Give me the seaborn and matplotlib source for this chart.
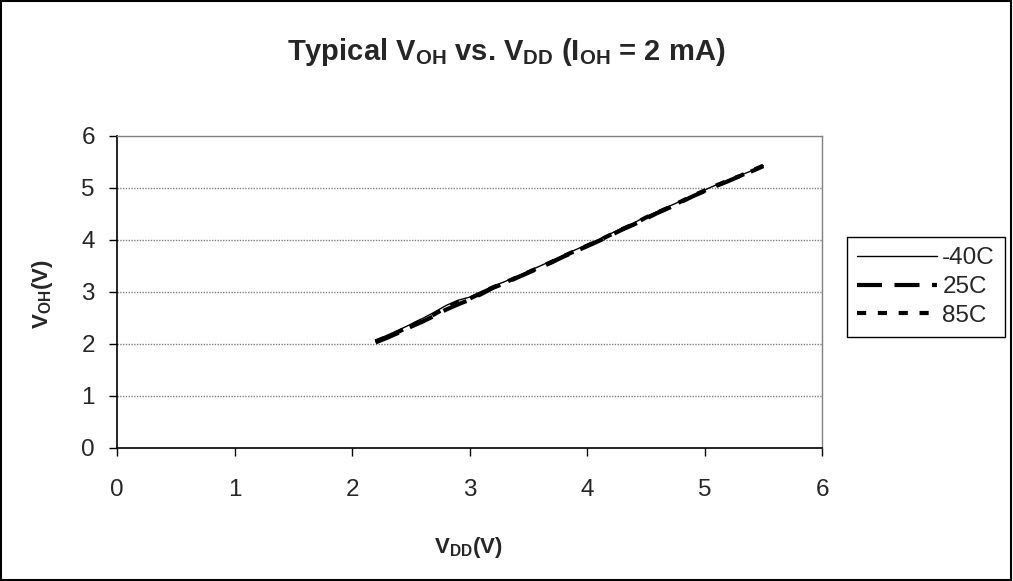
import numpy as np
import pandas as pd
import matplotlib
matplotlib.use("Agg")
import matplotlib.pyplot as plt
import seaborn as sns
from matplotlib.lines import Line2D
from matplotlib.patches import Rectangle

# dados (VDD em passos de 0.1 V)
vdd = [2.2, 2.3, 2.4, 2.5, 2.6, 2.7, 2.8, 2.9, 3.0, 3.1, 3.2, 3.3, 3.4, 3.5, 3.6, 3.7, 3.8,
       3.9, 4.0, 4.1, 4.2, 4.3, 4.4, 4.5, 4.6, 4.7, 4.8, 4.9, 5.0, 5.1, 5.2, 5.3, 5.4, 5.5]
voh_m40 = [2.07, 2.17, 2.27, 2.38, 2.49, 2.61, 2.74, 2.84, 2.90, 3.01, 3.11, 3.20, 3.30, 3.40,
           3.50, 3.60, 3.71, 3.81, 3.91, 4.01, 4.12, 4.23, 4.33, 4.45, 4.55, 4.65, 4.75, 4.86,
           4.96, 5.06, 5.15, 5.24, 5.33, 5.43]
voh_25 = [2.03, 2.12, 2.22, 2.33, 2.43, 2.54, 2.66, 2.76, 2.85, 2.96, 3.08, 3.17, 3.27, 3.37,
          3.47, 3.57, 3.68, 3.78, 3.88, 3.98, 4.09, 4.20, 4.30, 4.41, 4.52, 4.62, 4.73, 4.84,
          4.94, 5.04, 5.13, 5.23, 5.32, 5.42]
voh_85 = [2.05, 2.14, 2.24, 2.35, 2.46, 2.57, 2.70, 2.80, 2.87, 2.98, 3.09, 3.18, 3.28, 3.38,
          3.48, 3.58, 3.69, 3.79, 3.89, 3.99, 4.10, 4.21, 4.31, 4.43, 4.53, 4.63, 4.74, 4.85,
          4.95, 5.05, 5.14, 5.23, 5.33, 5.43]
series_names = ["-40C", "25C", "85C"]
x_ticks = [0, 1, 2, 3, 4, 5, 6]
y_ticks = [0, 1, 2, 3, 4, 5, 6]

sns.set_style("white")
plt.rcParams['font.family'] = ['Liberation Sans', 'DejaVu Sans']
plt.rcParams['mathtext.fontset'] = 'custom'
plt.rcParams['mathtext.rm'] = 'Liberation Sans'
plt.rcParams['mathtext.bf'] = 'Liberation Sans:bold'
plt.rcParams['mathtext.it'] = 'Liberation Sans:italic'

fig = plt.figure(figsize=(10.13, 5.81), dpi=100)
ax = fig.add_axes([117 / 1013, 1 - 448 / 581, 705 / 1013, 312 / 581])

estilos = {"-40C": dict(lw=1.0, ls="-"),
           "25C": dict(lw=3.0, ls=(0, (6, 3))),
           "85C": dict(lw=3.0, ls=(0, (2.2, 2.8)))}
valores = {"-40C": voh_m40, "25C": voh_25, "85C": voh_85}

for nome in series_names:
    df = pd.DataFrame({"vdd": vdd, "voh": valores[nome]})
    sns.lineplot(data=df, x="vdd", y="voh", ax=ax, color="black",
                 linewidth=estilos[nome]["lw"], linestyle=estilos[nome]["ls"])

ax.set_xlim(0, 6)
ax.set_ylim(0, 6)
ax.set_xticks(x_ticks)
ax.set_yticks(y_ticks)
ax.set_xticklabels([str(t) for t in x_ticks], fontsize=17.5)
ax.set_yticklabels([str(t) for t in y_ticks], fontsize=17.5)
ax.tick_params(axis="both", direction="out", length=6, width=1, color="black",
               bottom=True, left=True)
ax.tick_params(axis="x", pad=16)
ax.tick_params(axis="y", pad=10)
ax.set_xlabel("")
ax.set_ylabel("")

# linhas de grade pontilhadas
for yv in y_ticks[1:-1]:
    ax.axhline(yv, color="#808080", lw=1.0, ls=(0, (1, 1)), zorder=0)

for lado in ["left", "bottom"]:
    ax.spines[lado].set_color("black")
    ax.spines[lado].set_linewidth(1.2)
for lado in ["top", "right"]:
    ax.spines[lado].set_visible(True)
    ax.spines[lado].set_color("#808080")
    ax.spines[lado].set_linewidth(1.0)

fig.text(0.5, 1 - 52 / 581,
         r"Typical V$_\mathbf{OH}$ vs. V$_\mathbf{DD}$ (I$_\mathbf{OH}$ = 2 mA)",
         ha="center", va="center", fontsize=21, fontweight="bold")
fig.text(468 / 1013, 1 - 548 / 581, r"V$_\mathbf{DD}$(V)", ha="center", va="center",
         fontsize=16, fontweight="bold")
fig.text(42 / 1013, 1 - 294 / 581, r"V$_\mathbf{OH}$(V)", ha="center", va="center",
         fontsize=16, fontweight="bold", rotation=90)

handles = [Line2D([], [], color="black", lw=estilos[n]["lw"], ls=estilos[n]["ls"])
           for n in series_names]
leg = fig.legend(handles, series_names, loc="upper left",
                 bbox_to_anchor=(847 / 1013, 1 - 237 / 581), borderaxespad=0,
                 fontsize=17.5, handlelength=3.3, handletextpad=0.2, fancybox=False,
                 framealpha=1, edgecolor="black", borderpad=0.42, labelspacing=0.28)
leg.get_frame().set_linewidth(1.0)

fig.patches.append(Rectangle((0.001, 0.001), 0.997, 0.997, transform=fig.transFigure,
                             fill=False, edgecolor="black", lw=1.5))

fig.savefig("out.png", dpi=100)
